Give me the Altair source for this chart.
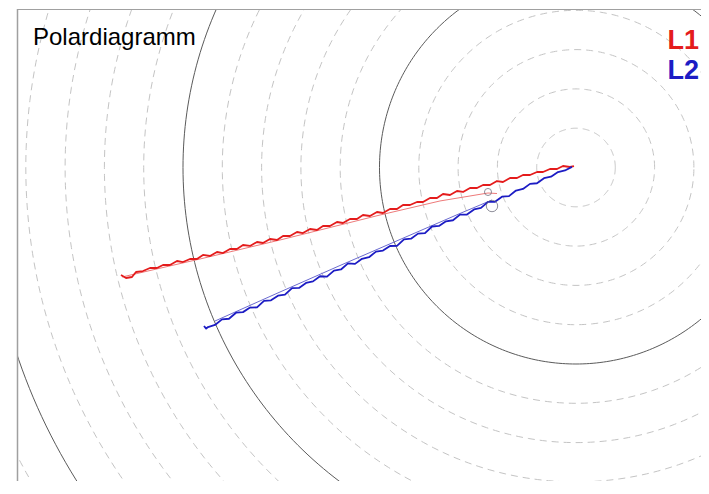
import altair as alt
import numpy as np
import pandas as pd

TITLE = "Polardiagramm"
SERIES = ["L1", "L2"]
COLORS = {"L1": "#e41c1c", "L2": "#1c1cc4"}

# grid rings (radius units), every 5th drawn solid
RING_RADII = list(range(1, 17))
SOLID_EVERY = 5

# L1 main trace
L1_X = [-11.578, -11.450, -11.298, -11.196, -11.018, -10.840, -10.662, -10.509, -10.331, -10.153,
        -10.000, -9.822, -9.644, -9.491, -9.313, -9.135, -8.982, -8.804, -8.626, -8.473,
        -8.295, -8.117, -7.964, -7.786, -7.608, -7.455, -7.277, -7.099, -6.947, -6.768,
        -6.590, -6.438, -6.260, -6.081, -5.929, -5.751, -5.573, -5.420, -5.242, -5.064,
        -4.911, -4.733, -4.555, -4.402, -4.224, -4.046, -3.893, -3.715, -3.537, -3.384,
        -3.206, -3.028, -2.875, -2.697, -2.519, -2.366, -2.188, -2.010, -1.858, -1.679,
        -1.501, -1.349, -1.170, -0.992, -0.840, -0.662, -0.483, -0.331, -0.153, -0.051]
L1_Y = [-2.735, -2.812, -2.786, -2.659, -2.634, -2.557, -2.557, -2.481, -2.481, -2.379,
        -2.405, -2.328, -2.328, -2.226, -2.252, -2.150, -2.176, -2.074, -2.074, -1.972,
        -1.997, -1.896, -1.921, -1.819, -1.845, -1.743, -1.743, -1.641, -1.667, -1.565,
        -1.590, -1.489, -1.489, -1.387, -1.412, -1.310, -1.310, -1.209, -1.234, -1.132,
        -1.158, -1.056, -1.056, -0.954, -0.954, -0.878, -0.878, -0.776, -0.776, -0.674,
        -0.700, -0.598, -0.623, -0.522, -0.522, -0.445, -0.445, -0.344, -0.369, -0.267,
        -0.267, -0.191, -0.191, -0.115, -0.115, -0.038, -0.038, 0.038, 0.013, 0.038]
# L1 second (fainter) trace
L1B_X = [-11.552, -9.567, -7.532, -4.987, -3.461, -2.697, -2.239, -2.010]
L1B_Y = [-2.786, -2.328, -1.845, -1.209, -0.852, -0.725, -0.649, -0.662]

# L2 main trace
L2_X = [-9.466, -9.410, -9.364, -9.186, -9.008, -8.830, -8.651, -8.473, -8.295, -8.117, -7.939,
        -7.761, -7.583, -7.405, -7.226, -7.048, -6.870, -6.692, -6.514, -6.336, -6.158,
        -5.980, -5.802, -5.623, -5.445, -5.267, -5.089, -4.911, -4.733, -4.555, -4.377,
        -4.198, -4.020, -3.842, -3.664, -3.486, -3.308, -3.130, -2.952, -2.774, -2.595,
        -2.417, -2.239, -2.061, -1.883, -1.705, -1.527, -1.349, -1.170, -0.992, -0.814,
        -0.636, -0.458, -0.280, -0.102]
L2_Y = [-4.033, -4.100, -4.059, -4.006, -3.864, -3.849, -3.695, -3.680, -3.564, -3.561, -3.394,
        -3.379, -3.262, -3.235, -3.068, -3.065, -2.937, -2.897, -2.767, -2.778, -2.624,
        -2.595, -2.441, -2.452, -2.322, -2.282, -2.140, -2.113, -1.997, -1.994, -1.827,
        -1.812, -1.683, -1.668, -1.501, -1.486, -1.370, -1.342, -1.200, -1.198, -1.068,
        -1.028, -0.874, -0.871, -0.743, -0.728, -0.586, -0.546, -0.417, -0.401, -0.273,
        -0.233, -0.116, -0.076, 0.016]
# L2 second (fainter) trace
L2B_X = [-9.186, -7.532, -6.005, -4.478, -2.952, -2.137]
L2B_Y = [-3.906, -3.168, -2.494, -1.832, -1.170, -0.827]

# marked points
MARK_SERIES = ["L1", "L2"]
MARK_X = [-2.239, -2.137]
MARK_Y = [-0.623, -0.980]

X_DOMAIN = [-14.224, 3.181]
Y_DOMAIN = [-7.977, 4.033]
W, H = 684, 472

xs = alt.Scale(domain=X_DOMAIN, nice=False, zero=False)
ys = alt.Scale(domain=Y_DOMAIN, nice=False, zero=False)


def X():
    return alt.X("x:Q", scale=xs, axis=None)


def Y():
    return alt.Y("y:Q", scale=ys, axis=None)


# ring geometry
rows = []
angles = np.deg2rad(np.arange(0, 361, 1))
for r in RING_RADII:
    kind = "solid" if r % SOLID_EVERY == 0 else "dashed"
    for i, a in enumerate(angles):
        rows.append({"ring": r, "i": i, "x": r * np.cos(a), "y": r * np.sin(a), "kind": kind})
rings = pd.DataFrame(rows)

dashed = alt.Chart(rings[rings.kind == "dashed"]).mark_line(
    color="#c4c4c4", strokeWidth=1, strokeDash=[7, 5], clip=True
).encode(x=X(), y=Y(), detail="ring:N", order="i:Q")

solid = alt.Chart(rings[rings.kind == "solid"]).mark_line(
    color="#5a5a5a", strokeWidth=1, clip=True
).encode(x=X(), y=Y(), detail="ring:N", order="i:Q")


def trace(xv, yv, name):
    return pd.DataFrame({"x": xv, "y": yv, "i": range(len(xv)), "s": name})


faint = pd.concat([trace(L1B_X, L1B_Y, "L1"), trace(L2B_X, L2B_Y, "L2")])
main = pd.concat([trace(L1_X, L1_Y, "L1"), trace(L2_X, L2_Y, "L2")])

cscale = alt.Scale(domain=SERIES, range=[COLORS[s] for s in SERIES])
faint_scale = alt.Scale(domain=SERIES, range=["#ee7a7a", "#6a6ad0"])

faint_lines = alt.Chart(faint).mark_line(strokeWidth=1, clip=True).encode(
    x=X(), y=Y(), order="i:Q", color=alt.Color("s:N", scale=faint_scale, legend=None)
)
main_lines = alt.Chart(main).mark_line(strokeWidth=1.8, strokeJoin="round", clip=True).encode(
    x=X(), y=Y(), order="i:Q", color=alt.Color("s:N", scale=cscale, legend=None)
)

marks = pd.DataFrame({"x": MARK_X, "y": MARK_Y, "s": MARK_SERIES, "sz": [50, 130]})
markers = alt.Chart(marks).mark_point(shape="circle", filled=False, strokeWidth=1, color="#606070").encode(
    x=X(), y=Y(), size=alt.Size("sz:Q", scale=None, legend=None)
)

frame_left = alt.Chart(pd.DataFrame({"a": [0]})).mark_rule(color="#a0a0a0", strokeWidth=1.5).encode(
    x=alt.value(0.5), y=alt.value(0), y2=alt.value(H)
)
frame_top = alt.Chart(pd.DataFrame({"a": [0]})).mark_rule(color="#a0a0a0", strokeWidth=1).encode(
    x=alt.value(0), x2=alt.value(W), y=alt.value(0.5)
)

title = alt.Chart(pd.DataFrame({"t": [TITLE]})).mark_text(
    align="left", baseline="alphabetic", fontSize=24, font="Liberation Sans", color="#000000"
).encode(x=alt.value(16), y=alt.value(36), text="t:N")

leg1 = alt.Chart(pd.DataFrame({"t": [SERIES[0]]})).mark_text(
    align="right", baseline="alphabetic", fontSize=27, fontWeight="bold", font="Liberation Sans",
    color=COLORS["L1"]
).encode(x=alt.value(W - 2), y=alt.value(40), text="t:N")
leg2 = alt.Chart(pd.DataFrame({"t": [SERIES[1]]})).mark_text(
    align="right", baseline="alphabetic", fontSize=27, fontWeight="bold", font="Liberation Sans",
    color=COLORS["L2"]
).encode(x=alt.value(W - 2), y=alt.value(70), text="t:N")

chart = alt.layer(
    dashed, solid, frame_left, frame_top, faint_lines, main_lines, markers, title, leg1, leg2
).resolve_scale(color="independent").properties(
    width=W, height=H,
    autosize=alt.AutoSizeParams(type="none"),
    padding={"left": 9, "top": 1, "right": 0, "bottom": 0},
).configure_view(stroke=None)

chart.save("out.html", embed_options={"renderer": "svg", "actions": False})
